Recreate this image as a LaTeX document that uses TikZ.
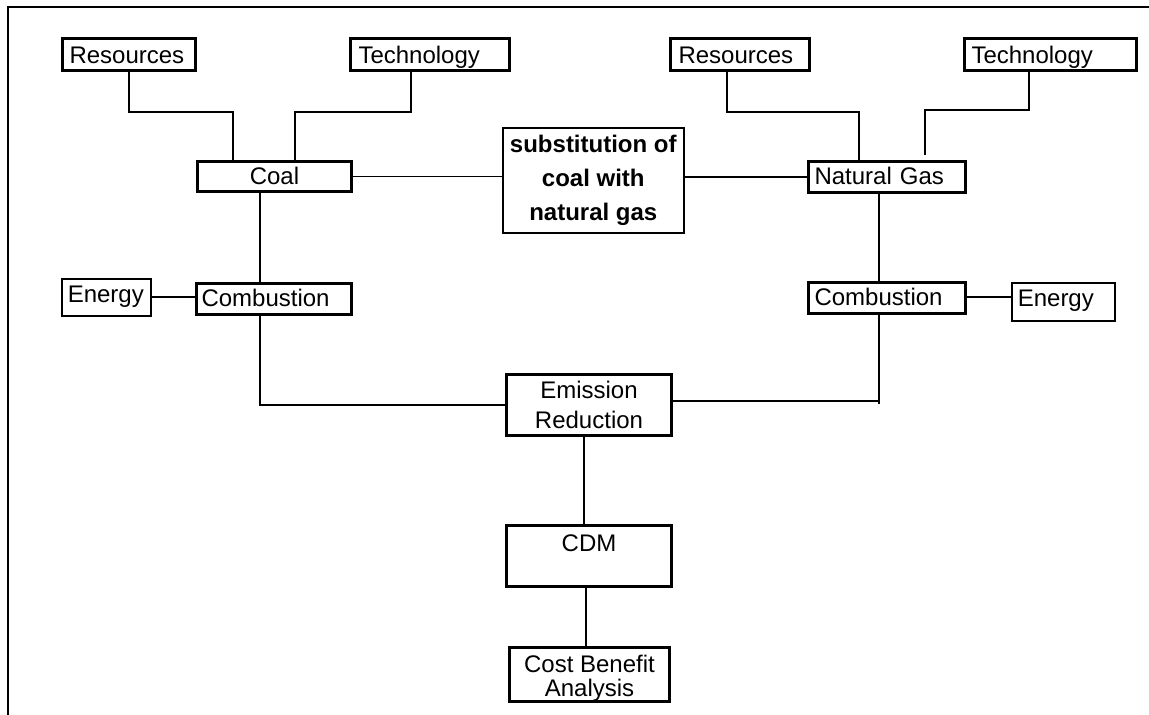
\documentclass[tikz,border=0pt]{standalone}
\usepackage{fontspec}
\setmainfont{Liberation Sans}
\usetikzlibrary{calc}
\begin{document}
\begin{tikzpicture}[x=1pt,y=-1pt,
  every node/.style={font=\fontsize{24}{32}\selectfont, inner sep=0pt, anchor=north west},
  heavy/.style={draw, line width=3pt},
  light/.style={draw, line width=1.6pt},
  lbox/.style n args={3}{minimum width=#1, minimum height=#2, text width=#1-10pt,
    inner xsep=5pt, align=left, text height=18pt, text depth=#3},
  cbox/.style 2 args={minimum width=#1, minimum height=#2, align=center},
  link/.style={line width=1.8pt}]
\useasboundingbox (0,0) rectangle (1149,715);
% outer frame (top and left edges only)
\draw[line width=2pt] (8,715) -- (8,7) -- (1149,7);

% coal branch
\node[heavy, lbox={133pt}{32pt}{0pt}, inner xsep=7pt, text width=119pt] (resL) at (61,37) {Resources};
\node[heavy, lbox={159pt}{32pt}{0pt}, inner xsep=8pt, text width=143pt] (techL) at (349,37) {Technology};
\node[heavy, cbox={154pt}{30pt}, text height=18pt, text depth=2pt] (coal) at (196,160) {Coal};
\node[light, lbox={89pt}{37pt}{7pt}, inner xsep=6pt, text width=77pt] (enL) at (61,278) {Energy};
\node[heavy, lbox={155pt}{31pt}{3pt}] (combL) at (195,282) {Combustion};

% central box
\node[light, cbox={181pt}{105pt}, font=\fontsize{24}{34}\selectfont\bfseries] (subst) at (502,127) {substitution of\\coal with\\natural gas};

% natural gas branch
\node[heavy, lbox={139pt}{32pt}{0pt}, inner xsep=8pt, text width=123pt] (resR) at (669,37) {Resources};
\node[heavy, lbox={172pt}{32pt}{0pt}, inner xsep=7pt, text width=158pt] (techR) at (963,37) {Technology};
\node[heavy, lbox={157pt}{31pt}{3pt}, inner xsep=6pt, text width=145pt] (ng) at (807,160) {Natural Gas};
\node[heavy, lbox={157pt}{31pt}{3pt}, inner xsep=6pt, text width=145pt] (combR) at (807,281) {Combustion};
\node[light, lbox={103pt}{38pt}{8pt}, inner xsep=6pt, text width=91pt] (enR) at (1011,282) {Energy};

% lower chain
\node[heavy, cbox={165pt}{61pt}, font=\fontsize{24}{30}\selectfont] (emis) at (505,373) {Emission\\Reduction};
\node[heavy, cbox={165pt}{61pt}] (cdm) at (505,524) {CDM\rule[-26pt]{0pt}{0pt}};
\node[heavy, cbox={160pt}{54pt}, font=\fontsize{24}{24}\selectfont] (cba) at (508,646) {\rule{0pt}{24pt}Cost Benefit\\Analysis};

% connectors, coal side
\draw[link] (resL.south) |- (233,112) -- (233,0 |- coal.north);
\draw[link] (411,0 |- techL.south) |- (295,112) -- (295,0 |- coal.north);
\draw[link] (coal.east) -- (coal.east -| subst.west);
\draw[link] (260,0 |- coal.south) -- (260,0 |- combL.north);
\draw[link] (enL.east |- 0,297) -- (combL.west |- 0,297);
\draw[link] (260,0 |- combL.south) |- (emis.west);

% connectors, natural gas side
\draw[link] (subst.east |- ng.west) -- (ng.west);
\draw[link] (727,0 |- resR.south) |- (859,112) -- (859,0 |- ng.north);
\draw[link] (1029,0 |- techR.south) |- (925,110) -- ($(925,0 |- ng.north)+(0,-5)$);
\draw[link] (879,0 |- ng.south) -- (879,0 |- combR.north);
\draw[link] (combR.east |- 0,297) -- (enR.west |- 0,297);
\draw[link] (879,0 |- combR.south) -- (879,404);
\draw[link] (879,401) -- (emis.east |- 0,401);

% connectors, lower chain
\draw[link] (584,0 |- emis.south) -- (584,0 |- cdm.north);
\draw[link] (586,0 |- cdm.south) -- (586,0 |- cba.north);
\end{tikzpicture}
\end{document}
